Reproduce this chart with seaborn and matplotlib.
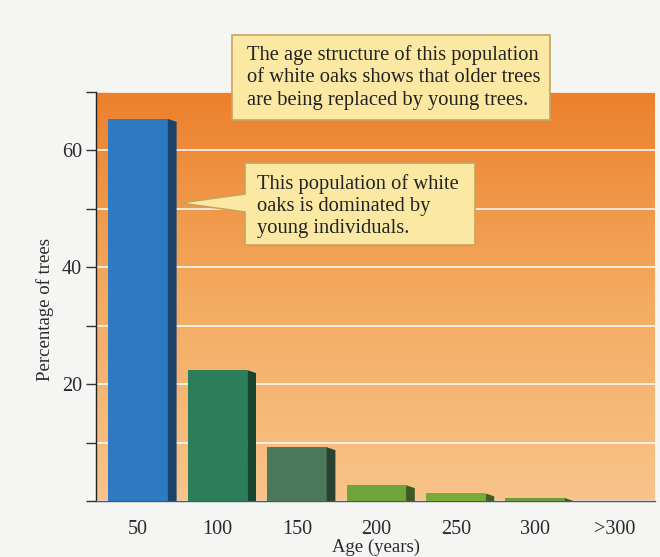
import numpy as np
import pandas as pd
import matplotlib
matplotlib.use("Agg")
import matplotlib.pyplot as plt
import seaborn as sns
from matplotlib.patches import Polygon
from matplotlib.colors import LinearSegmentedColormap, to_rgb

# Age structure of a white oak population
age_classes = ["50", "100", "150", "200", "250", "300", ">300"]
pct_trees = [65.4, 22.4, 9.2, 2.7, 1.3, 0.5, 0.0]
bar_colors = ["#2f78c2", "#2c7e5b", "#4b7858", "#6fa43a", "#78ac39", "#6e9c3f", "#6e9c3f"]
y_ticks = [0, 10, 20, 30, 40, 50, 60, 70]
y_tick_labels = ["", "", "20", "", "40", "", "60", ""]

note_top = ["The age structure of this population",
            "of white oaks shows that older trees",
            "are being replaced by young trees."]
note_mid = ["This population of white",
            "oaks is dominated by",
            "young individuals."]

sns.set_theme(style="white")
plt.rcParams["font.family"] = ["Liberation Serif", "DejaVu Serif"]

W, H = 660, 557
fig = plt.figure(figsize=(W / 100, H / 100), dpi=100, facecolor="#f5f5f3")
ax = fig.add_axes([96 / W, 1 - 501 / H, (655 - 96) / W, (501 - 92) / H])

df = pd.DataFrame({"age": age_classes, "pct": pct_trees})
sns.barplot(data=df, x="age", y="pct", hue="age", palette=bar_colors,
            legend=False, width=0.75, saturation=1, ax=ax, zorder=3,
            edgecolor="none")

xlo, xhi = -0.53, 6.51
ylo, yhi = 0, 70

# orange gradient backdrop
grad_cmap = LinearSegmentedColormap.from_list(
    "bg", ["#f8c48a", "#f4aa60", "#ec802c"])
grad = np.linspace(0, 1, 256).reshape(-1, 1)
ax.imshow(grad, extent=[xlo, xhi, ylo, yhi], origin="lower", aspect="auto",
          cmap=grad_cmap, zorder=0, interpolation="bicubic")

# shaded side faces give the bars some depth
dx, dy = 0.11, 0.5
for patch, col in zip(ax.patches, bar_colors):
    h = patch.get_height()
    if h <= 0:
        continue
    xr = patch.get_x() + patch.get_width()
    side = tuple(c * 0.55 for c in to_rgb(col))
    ax.add_patch(Polygon([(xr, h), (xr + dx, max(h - dy, 0)), (xr + dx, 0), (xr, 0)],
                         closed=True, facecolor=side, edgecolor="none", zorder=3))

ax.set_xlim(xlo, xhi)
ax.set_ylim(ylo, yhi)

ax.set_yticks(y_ticks)
ax.set_yticklabels(y_tick_labels)
ax.yaxis.grid(True, color="white", lw=1.3, alpha=0.85)
ax.set_axisbelow(True)
ax.tick_params(axis="y", left=True, direction="out", length=7, width=1,
               color="#333333", pad=3, labelsize=14.5, labelcolor="#2a2a2a")
ax.tick_params(axis="x", bottom=False, pad=8, labelsize=14.5, labelcolor="#2a2a2a")

for s in ["top", "right"]:
    ax.spines[s].set_visible(False)
ax.spines["left"].set_color("#222222")
ax.spines["left"].set_linewidth(1.0)
ax.spines["bottom"].set_color("#555555")
ax.spines["bottom"].set_linewidth(1.0)

ax.set_xlabel("Age (years)", fontsize=13.5, color="#2a2a2a")
ax.set_ylabel("Percentage of trees", fontsize=13.5, color="#2a2a2a")
ax.xaxis.set_label_coords(0.5, -0.093)
ax.yaxis.set_label_coords(-0.075, 0.467)


def px(x, y):
    return (x / W, 1 - y / H)


box_face = "#fbe8a2"
box_edge = "#c9a35e"
note_size = 14.8

# upper callout
fig.patches.append(Polygon([px(232, 35), px(550, 35), px(550, 120), px(232, 120)],
                           closed=True, transform=fig.transFigure,
                           facecolor=box_face, edgecolor=box_edge, lw=1.2, zorder=4))
for i, line in enumerate(note_top):
    fig.text(*px(247, 55 + 23 * i), line, ha="left", va="center",
             fontsize=note_size, color="#222222", zorder=5)

# callout pointing at the youngest age class
fig.patches.append(Polygon([px(245, 163), px(475, 163), px(475, 245), px(245, 245),
                            px(245, 212), px(180, 203), px(245, 194)],
                           closed=True, transform=fig.transFigure,
                           facecolor=box_face, edgecolor=box_edge, lw=1.2, zorder=4))
for i, line in enumerate(note_mid):
    fig.text(*px(257, 184 + 22 * i), line, ha="left", va="center",
             fontsize=note_size, color="#222222", zorder=5)

fig.savefig("out.png", dpi=100, facecolor=fig.get_facecolor())
